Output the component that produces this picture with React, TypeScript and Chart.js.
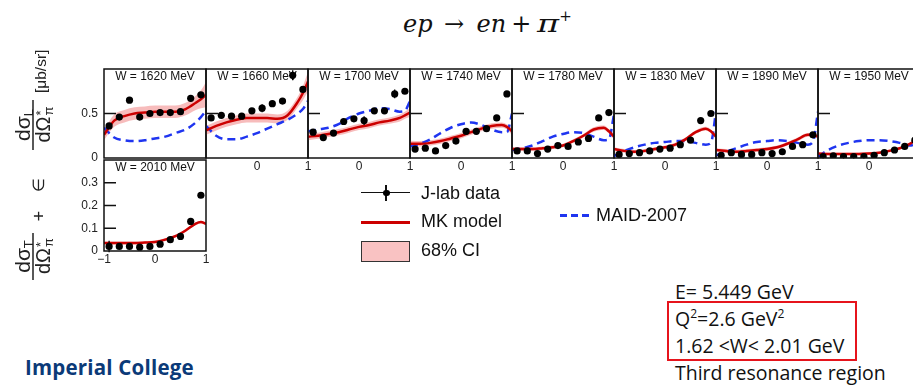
import React, { useEffect, useRef } from "react";
import { Chart, registerables } from "chart.js";
Chart.register(...registerables);

// ---------- data ----------
const W_LABELS = [
  "W = 1620 MeV", "W = 1660 MeV", "W = 1700 MeV", "W = 1740 MeV", "W = 1780 MeV",
  "W = 1830 MeV", "W = 1890 MeV", "W = 1950 MeV", "W = 2010 MeV",
];
const POINT_X = [-0.9, -0.7, -0.5, -0.3, -0.1, 0.1, 0.3, 0.5, 0.7, 0.9];
const CURVE_X = [-1, -0.8, -0.6, -0.4, -0.2, 0, 0.2, 0.4, 0.6, 0.8, 0.9, 1];

const JLAB = [
  [0.36, 0.46, 0.65, 0.46, 0.50, 0.51, 0.51, 0.52, 0.67, 0.71],
  [0.45, 0.48, 0.47, 0.47, 0.53, 0.56, 0.61, 0.64, 0.93, 0.77],
  [0.29, 0.23, 0.28, 0.41, 0.44, 0.42, 0.53, 0.53, 0.72, 0.75],
  [0.10, 0.11, 0.08, 0.14, 0.19, 0.30, 0.30, 0.33, 0.45, 0.72],
  [0.08, 0.08, 0.05, 0.10, 0.14, 0.13, 0.18, 0.22, 0.45, 0.51],
  [0.04, 0.05, 0.06, 0.08, 0.10, 0.11, 0.15, 0.20, 0.42, 0.50],
  [0.03, 0.06, 0.04, 0.04, 0.06, 0.05, 0.07, 0.13, 0.15, 0.26],
  [0.015, 0.025, 0.015, 0.015, 0.015, 0.03, 0.06, 0.09, 0.13, 0.20],
  [0.02, 0.02, 0.02, 0.017, 0.02, 0.03, 0.05, 0.064, 0.13, 0.245],
];
const JLAB_ERR = [
  [0.02, 0.02, 0.02, 0.02, 0.02, 0.02, 0.02, 0.03, 0.035, 0.03],
  [0.02, 0.02, 0.02, 0.02, 0.02, 0.045, 0.03, 0.03, 0.055, 0.03],
  [0.02, 0.02, 0.02, 0.02, 0.02, 0.05, 0.02, 0.02, 0.05, 0.03],
  [0.02, 0.02, 0.02, 0.02, 0.02, 0.02, 0.02, 0.02, 0.03, 0.03],
  [0.02, 0.02, 0.02, 0.02, 0.02, 0.02, 0.02, 0.02, 0.03, 0.02],
  [0.02, 0.02, 0.02, 0.02, 0.02, 0.02, 0.02, 0.02, 0.03, 0.02],
  [0.02, 0.02, 0.02, 0.02, 0.02, 0.02, 0.02, 0.02, 0.02, 0.02],
  [0.02, 0.02, 0.02, 0.02, 0.02, 0.02, 0.02, 0.02, 0.02, 0.02],
  [0.025, 0.005, 0.005, 0.005, 0.005, 0.005, 0.005, 0.006, 0.008, 0.008],
];
const MK_MODEL = [
  [0.26, 0.42, 0.47, 0.50, 0.51, 0.52, 0.52, 0.52, 0.55, 0.62, 0.66, 0.71],
  [0.31, 0.36, 0.40, 0.43, 0.45, 0.45, 0.45, 0.44, 0.48, 0.63, 0.73, 0.86],
  [0.24, 0.25, 0.27, 0.29, 0.32, 0.35, 0.37, 0.40, 0.42, 0.45, 0.48, 0.51],
  [0.16, 0.16, 0.17, 0.19, 0.22, 0.25, 0.29, 0.33, 0.36, 0.37, 0.35, 0.30],
  [0.10, 0.10, 0.10, 0.11, 0.12, 0.14, 0.19, 0.25, 0.32, 0.34, 0.30, 0.24],
  [0.10, 0.08, 0.07, 0.08, 0.10, 0.12, 0.15, 0.21, 0.29, 0.33, 0.30, 0.24],
  [0.09, 0.08, 0.07, 0.08, 0.09, 0.10, 0.12, 0.16, 0.21, 0.26, 0.26, 0.24],
  [0.05, 0.045, 0.045, 0.045, 0.045, 0.05, 0.06, 0.08, 0.11, 0.16, 0.19, 0.22],
  [0.035, 0.035, 0.035, 0.035, 0.037, 0.04, 0.05, 0.065, 0.09, 0.12, 0.127, 0.12],
];
const CI_HALF = [
  [0.06, 0.07, 0.07, 0.07, 0.07, 0.07, 0.07, 0.07, 0.07, 0.08, 0.10, 0.14],
  [0.05, 0.05, 0.05, 0.05, 0.05, 0.05, 0.05, 0.05, 0.05, 0.06, 0.08, 0.11],
  [0.04, 0.035, 0.035, 0.035, 0.035, 0.035, 0.035, 0.035, 0.035, 0.04, 0.04, 0.05],
  [0.035, 0.03, 0.03, 0.03, 0.03, 0.03, 0.03, 0.03, 0.03, 0.03, 0.03, 0.04],
  [0.02, 0.02, 0.02, 0.02, 0.02, 0.02, 0.02, 0.02, 0.025, 0.025, 0.025, 0.03],
  [0.02, 0.02, 0.02, 0.02, 0.02, 0.02, 0.02, 0.02, 0.02, 0.02, 0.02, 0.025],
  [0.02, 0.02, 0.02, 0.02, 0.02, 0.02, 0.02, 0.02, 0.02, 0.02, 0.02, 0.02],
  [0.015, 0.015, 0.015, 0.015, 0.015, 0.015, 0.015, 0.015, 0.015, 0.015, 0.015, 0.02],
  [0.006, 0.006, 0.006, 0.006, 0.006, 0.006, 0.006, 0.006, 0.006, 0.006, 0.006, 0.006],
];
const MAID_2007 = [
  [0.34, 0.23, 0.20, 0.19, 0.20, 0.22, 0.24, 0.28, 0.32, 0.40, 0.46, 0.53],
  [0.36, 0.25, 0.21, 0.21, 0.24, 0.28, 0.33, 0.38, 0.43, 0.50, 0.55, 0.64],
  [0.30, 0.32, 0.34, 0.38, 0.45, 0.50, 0.53, 0.56, 0.55, 0.52, 0.53, 0.64],
  [0.13, 0.16, 0.21, 0.28, 0.34, 0.38, 0.40, 0.37, 0.32, 0.29, 0.29, 0.50],
  [0.09, 0.11, 0.14, 0.19, 0.24, 0.27, 0.29, 0.28, 0.24, 0.20, 0.21, 0.49],
  [0.02, 0.08, 0.12, 0.15, 0.17, 0.18, 0.19, 0.19, 0.17, 0.15, 0.17, 0.52],
  [0.03, 0.07, 0.11, 0.15, 0.18, 0.19, 0.20, 0.19, 0.17, 0.15, 0.18, 0.52],
  [0.015, 0.09, 0.14, 0.17, 0.19, 0.20, 0.20, 0.19, 0.17, 0.14, 0.15, 0.16],
  [],
];
const Y_MAX = [1, 1, 1, 1, 1, 1, 1, 1, 0.4];
const Y_TICKS_TOP = [0, 0.5];
const Y_TICKS_BOTTOM = [0, 0.1, 0.2, 0.3];
const X_TICKS = [-1, 0, 1];
const X_TICK_LABELS = ["\u22121", "0", "1"];

// ---------- style ----------
const SANS = "'Liberation Sans', Arial, Helvetica, sans-serif";
const RED = "#cc0000";
const BLUE = "#1f35f0";
const BAND = "rgba(238,115,115,0.48)";
const PAD = { left: 34, right: 12, top: 2, bottom: 20 };

function panelBox(i: number) {
  if (i < 8) return { left: 104 + 102 * i, top: 67, w: 102, h: 91 };
  return { left: 104, top: 158, w: 102, h: 93 };
}

function makeDecor(i: number) {
  const bottom = i === 8;
  const yTicks = bottom ? Y_TICKS_BOTTOM : Y_TICKS_TOP;
  const showY = i === 0 || i === 8;
  const xLabelIdx = i === 0 ? [] : bottom ? [0, 1, 2] : [1, 2];
  return {
    id: "decor" + i,
    beforeDatasetsDraw(chart: any) {
      const { ctx, chartArea: a } = chart;
      ctx.save();
      ctx.font = `12px ${SANS}`;
      ctx.fillStyle = "#111";
      ctx.textAlign = "center";
      ctx.textBaseline = "middle";
      ctx.fillText(W_LABELS[i], (a.left + a.right) / 2, a.top + 8);
      ctx.restore();
    },
    afterDatasetsDraw(chart: any) {
      const { ctx } = chart;
      const xs = chart.scales.x, ys = chart.scales.y;
      ctx.save();
      ctx.strokeStyle = "#000";
      ctx.lineWidth = 1.3;
      ctx.beginPath();
      POINT_X.forEach((x, k) => {
        const v = JLAB[i][k], e = JLAB_ERR[i][k];
        const px = xs.getPixelForValue(x);
        ctx.moveTo(px, ys.getPixelForValue(v - e));
        ctx.lineTo(px, ys.getPixelForValue(v + e));
      });
      ctx.stroke();
      ctx.restore();
    },
    afterDraw(chart: any) {
      const { ctx, chartArea: a } = chart;
      const xs = chart.scales.x, ys = chart.scales.y;
      ctx.save();
      ctx.strokeStyle = "#111";
      ctx.lineWidth = 1.5;
      ctx.strokeRect(a.left, a.top, a.right - a.left, a.bottom - a.top);
      ctx.beginPath();
      yTicks.forEach((v) => {
        if (v <= 0) return;
        const py = ys.getPixelForValue(v);
        ctx.moveTo(a.left, py);
        ctx.lineTo(a.left + 12, py);
      });
      ctx.stroke();
      ctx.fillStyle = "#222";
      ctx.font = `12px ${SANS}`;
      if (showY) {
        ctx.textAlign = "right";
        ctx.textBaseline = "middle";
        yTicks.forEach((v) => ctx.fillText(String(v), a.left - 6, ys.getPixelForValue(v)));
      }
      ctx.textAlign = "center";
      ctx.textBaseline = "middle";
      xLabelIdx.forEach((k) => ctx.fillText(X_TICK_LABELS[k], xs.getPixelForValue(X_TICKS[k]), a.bottom + 9));
      ctx.restore();
    },
  };
}

function Panel({ i }: { i: number }) {
  const ref = useRef<HTMLCanvasElement>(null);
  const b = panelBox(i);
  const cw = PAD.left + b.w + PAD.right;
  const ch = PAD.top + b.h + PAD.bottom;
  useEffect(() => {
    const mk = CURVE_X.map((x, k) => ({ x, y: MK_MODEL[i][k] }));
    const up = CURVE_X.map((x, k) => ({ x, y: MK_MODEL[i][k] + CI_HALF[i][k] }));
    const lo = CURVE_X.map((x, k) => ({ x, y: MK_MODEL[i][k] - CI_HALF[i][k] }));
    const maid = MAID_2007[i].map((y, k) => ({ x: CURVE_X[k], y }));
    const pts = POINT_X.map((x, k) => ({ x, y: JLAB[i][k] }));
    const chart = new Chart(ref.current as HTMLCanvasElement, {
      type: "line",
      data: {
        datasets: [
          { data: up, borderWidth: 0, pointRadius: 0, fill: false, cubicInterpolationMode: "monotone", order: 5 },
          { data: lo, borderWidth: 0, pointRadius: 0, fill: 0, backgroundColor: BAND, cubicInterpolationMode: "monotone", order: 4 },
          { data: mk, borderColor: RED, borderWidth: 2.5, pointRadius: 0, fill: false, cubicInterpolationMode: "monotone", order: 2 },
          { data: maid, borderColor: BLUE, borderWidth: 2.5, borderDash: [8, 5], pointRadius: 0, fill: false, cubicInterpolationMode: "monotone", order: 3 },
          { data: pts, showLine: false, pointRadius: 3.6, pointBackgroundColor: "#000", pointBorderWidth: 0, order: 1 },
        ] as any,
      },
      options: {
        responsive: false,
        maintainAspectRatio: false,
        animation: false,
        events: [],
        layout: { padding: PAD },
        scales: {
          x: { type: "linear", min: -1, max: 1, display: false },
          y: { type: "linear", min: 0, max: Y_MAX[i], display: false },
        },
        plugins: { legend: { display: false }, tooltip: { enabled: false } },
      },
      plugins: [makeDecor(i)],
    } as any);
    return () => chart.destroy();
  }, []);
  return (
    <canvas
      ref={ref}
      width={cw}
      height={ch}
      style={{ position: "absolute", left: b.left - PAD.left, top: b.top - PAD.top, width: cw, height: ch }}
    />
  );
}

// Rotated y-axis title, drawn on its own canvas.
// Local frame: x runs up the page (reading direction), y runs to the right.
function YTitle() {
  const ref = useRef<HTMLCanvasElement>(null);
  useEffect(() => {
    const c = ref.current as HTMLCanvasElement;
    const ctx = c.getContext("2d") as CanvasRenderingContext2D;
    ctx.clearRect(0, 0, c.width, c.height);
    ctx.save();
    ctx.translate(33, 240); // screen (33, 280)
    ctx.rotate(-Math.PI / 2);
    ctx.fillStyle = "#222";
    ctx.strokeStyle = "#222";
    ctx.textBaseline = "alphabetic";
    ctx.textAlign = "left";
    const frac = (x0: number, len: number, subTxt: string) => {
      ctx.lineWidth = 1.5;
      ctx.beginPath();
      ctx.moveTo(x0, 0);
      ctx.lineTo(x0 + len, 0);
      ctx.stroke();
      ctx.font = `21px ${SANS}`;
      const wN = ctx.measureText("dσ").width;
      ctx.font = `13px ${SANS}`;
      const wS = ctx.measureText(subTxt).width;
      const nx = x0 + (len - wN - wS) / 2;
      ctx.font = `21px ${SANS}`;
      ctx.fillText("dσ", nx, -3);
      ctx.font = `13px ${SANS}`;
      ctx.fillText(subTxt, nx + wN, 0);
      ctx.font = `20px ${SANS}`;
      const wD = ctx.measureText("dΩ").width;
      const dx = x0 + (len - wD - 9) / 2;
      ctx.fillText("dΩ", dx, 17);
      ctx.font = `13px ${SANS}`;
      ctx.fillText("*", dx + wD + 1, 12);
      ctx.fillText("π", dx + wD + 1, 20);
    };
    frac(0, 47, "T");
    ctx.font = `18px ${SANS}`;
    ctx.textAlign = "center";
    ctx.textBaseline = "middle";
    ctx.fillText("+", 64, 7);
    ctx.font = `16px ${SANS}`;
    ctx.fillText("∈", 95, 7);
    ctx.textAlign = "left";
    ctx.textBaseline = "alphabetic";
    frac(130, 50, "L");
    ctx.font = `15.5px ${SANS}`;
    ctx.textBaseline = "middle";
    ctx.fillText("[μb/sr]", 187, 9);
    ctx.restore();
  }, []);
  return <canvas ref={ref} width={70} height={260} style={{ position: "absolute", left: 0, top: 40, width: 70, height: 260 }} />;
}

export default function App() {
  const t = (left: number, cy: number, text: React.ReactNode, size = 18) => (
    <div style={{ position: "absolute", left, top: cy - 11, lineHeight: "22px", fontSize: size, fontFamily: SANS, color: "#111", whiteSpace: "nowrap" }}>
      {text}
    </div>
  );
  const sup: React.CSSProperties = { fontSize: "0.62em", position: "relative", top: -8, lineHeight: 0 };
  const op: React.CSSProperties = { display: "inline-block", fontStyle: "normal" };
  return (
    <div style={{ position: "fixed", left: 0, top: 0, width: 913, height: 385, overflow: "hidden", background: "#fff" }}>
      {/* title */}
      <div style={{ position: "absolute", left: 403, top: 9, fontFamily: "'DejaVu Serif', serif", fontSize: 24, lineHeight: "30px", color: "#111", whiteSpace: "nowrap" }}>
        <i>ep</i>
        <span style={{ ...op, marginLeft: 9, width: 25, textAlign: "center" }}>→</span>
        <i style={{ marginLeft: 10 }}>en</i>
        <span style={{ ...op, marginLeft: 5, width: 20, textAlign: "center" }}>+</span>
        <i style={{ display: "inline-block", marginLeft: 6, width: 22, transform: "scaleX(1.4)", transformOrigin: "left center" }}>π</i>
        <span style={{ fontSize: 15, position: "relative", top: -11, lineHeight: 0 }}>+</span>
      </div>

      {Array.from({ length: 9 }, (_, i) => <Panel key={i} i={i} />)}

      <YTitle />

      {/* legend */}
      <div style={{ position: "absolute", left: 361, top: 192, width: 49, height: 1.3, background: "#111" }} />
      <div style={{ position: "absolute", left: 385.3, top: 185, width: 1.3, height: 16, background: "#111" }} />
      <div style={{ position: "absolute", left: 383, top: 189.5, width: 6.5, height: 6.5, borderRadius: "50%", background: "#000" }} />
      {t(421, 193, "J-lab data")}
      <div style={{ position: "absolute", left: 361, top: 220.5, width: 49, height: 3, background: RED }} />
      {t(421, 221, "MK model")}
      <div style={{ position: "absolute", left: 361, top: 240.5, width: 49, height: 21, boxSizing: "border-box", border: "1.5px solid #333", background: "#f9c2c2" }} />
      {t(421, 250, "68% CI")}
      <div style={{ position: "absolute", left: 560, top: 213.5, width: 31, height: 3, background: `repeating-linear-gradient(to right, ${BLUE} 0 7px, transparent 7px 11px)` }} />
      {t(596, 215, "MAID-2007")}

      {/* info block */}
      <div style={{ position: "absolute", left: 667, top: 301, width: 190, height: 60, boxSizing: "border-box", border: "2.5px solid #e6141c" }} />
      <div style={{ position: "absolute", left: 675, top: 278, fontFamily: "'Open Sans', sans-serif", fontSize: 19.5, lineHeight: "27px", color: "#111", whiteSpace: "nowrap" }}>
        <div>E= 5.449 GeV</div>
        <div>Q<span style={sup}>2</span>=2.6 GeV<span style={sup}>2</span></div>
        <div>1.62 &lt;W&lt; 2.01 GeV</div>
        <div>Third resonance region</div>
      </div>

      {/* logo text */}
      <div style={{ position: "absolute", left: 25, top: 356, fontFamily: "'Open Sans', sans-serif", fontWeight: 700, fontSize: 20.5, lineHeight: "22px", color: "#0b3a78", whiteSpace: "nowrap", letterSpacing: 0.2 }}>
        Imperial College
      </div>
    </div>
  );
}
